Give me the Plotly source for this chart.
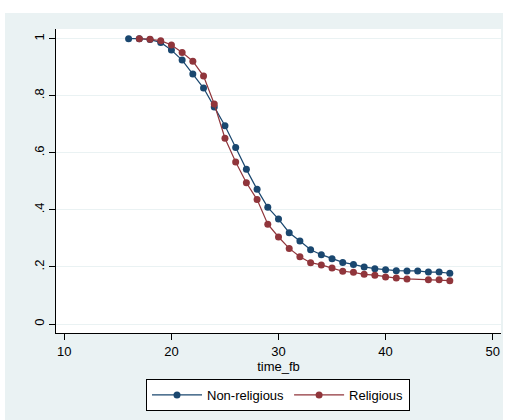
import plotly.graph_objects as go

# Data
x_nonrel = list(range(16, 47))
y_nonrel = [1.0, 1.0, 0.997, 0.987, 0.960, 0.925, 0.876, 0.827, 0.761, 0.695,
            0.619, 0.542, 0.472, 0.409, 0.368, 0.320, 0.291, 0.260, 0.243, 0.229,
            0.216, 0.209, 0.200, 0.194, 0.190, 0.187, 0.186, 0.186, 0.182, 0.182,
            0.178]
x_rel = list(range(17, 43)) + [44, 45, 46]
y_rel = [1.0, 0.998, 0.993, 0.978, 0.952, 0.921, 0.869, 0.771, 0.651, 0.568,
         0.495, 0.436, 0.350, 0.305, 0.265, 0.236, 0.215, 0.207, 0.196, 0.185,
         0.181, 0.174, 0.171, 0.165, 0.161, 0.158, 0.155, 0.155, 0.152]

x_ticks = [10, 20, 30, 40, 50]
y_ticks = [0, 0.2, 0.4, 0.6, 0.8, 1]
y_ticklabels = ["0", ".2", ".4", ".6", ".8", "1"]

NAVY = "#1a476f"
MAROON = "#90353b"
BG = "#eaf2f3"
FONT = "Liberation Sans, Arial, sans-serif"

fig = go.Figure()
fig.add_trace(go.Scatter(x=x_nonrel, y=y_nonrel, mode="lines+markers", name="Non-religious",
                         line=dict(color=NAVY, width=1.2),
                         marker=dict(color=NAVY, size=7)))
fig.add_trace(go.Scatter(x=x_rel, y=y_rel, mode="lines+markers", name="Religious",
                         line=dict(color=MAROON, width=1.2),
                         marker=dict(color=MAROON, size=7)))

L, R, T, B = 56, 7, 29, 87
W, H = 508, 420
pw = W - L - R
ph = H - T - B

def px_x(p):
    return (p - L) / pw

def px_y(p):
    return (H - B - p) / ph

fig.update_layout(
    width=W, height=H,
    margin=dict(l=L, r=R, t=T, b=B, pad=0, autoexpand=False),
    paper_bgcolor="white",
    plot_bgcolor="white",
    font=dict(family=FONT, size=13, color="black"),
    showlegend=True,
    legend=dict(orientation="h", xref="container", yref="container",
                x=278 / W, xanchor="center",
                y=1 - 379 / H, yanchor="top",
                bgcolor="white", bordercolor="black", borderwidth=1,
                font=dict(size=13), itemwidth=50, tracegroupgap=0),
    shapes=[
        dict(type="rect", xref="paper", yref="paper",
             x0=px_x(5), x1=px_x(503), y0=px_y(421), y1=px_y(13),
             fillcolor=BG, line=dict(width=0), layer="below"),
        dict(type="rect", xref="paper", yref="paper",
             x0=0, x1=1, y0=0, y1=1,
             fillcolor="white", line=dict(width=0), layer="below"),
    ],
    xaxis=dict(range=[9.22, 50.78], tickvals=x_ticks, ticks="outside", ticklen=6,
               tickcolor="black", showline=True, linecolor="black", linewidth=1,
               showgrid=False, zeroline=False, automargin=False,
               title=dict(text="time_fb", standoff=1, font=dict(size=13)),
               tickfont=dict(size=13)),
    yaxis=dict(range=[-0.0315, 1.034], tickvals=y_ticks, ticktext=y_ticklabels,
               ticks="outside", ticklen=6, tickcolor="black", tickangle=-90,
               showline=True, linecolor="black", linewidth=1, automargin=False,
               showgrid=True, gridcolor=BG, gridwidth=1, zeroline=False,
               tickfont=dict(size=13)),
)

fig.write_html("out.html",
               config={"displayModeBar": False},
               post_script="document.body.style.margin='0';document.body.style.padding='0';")
